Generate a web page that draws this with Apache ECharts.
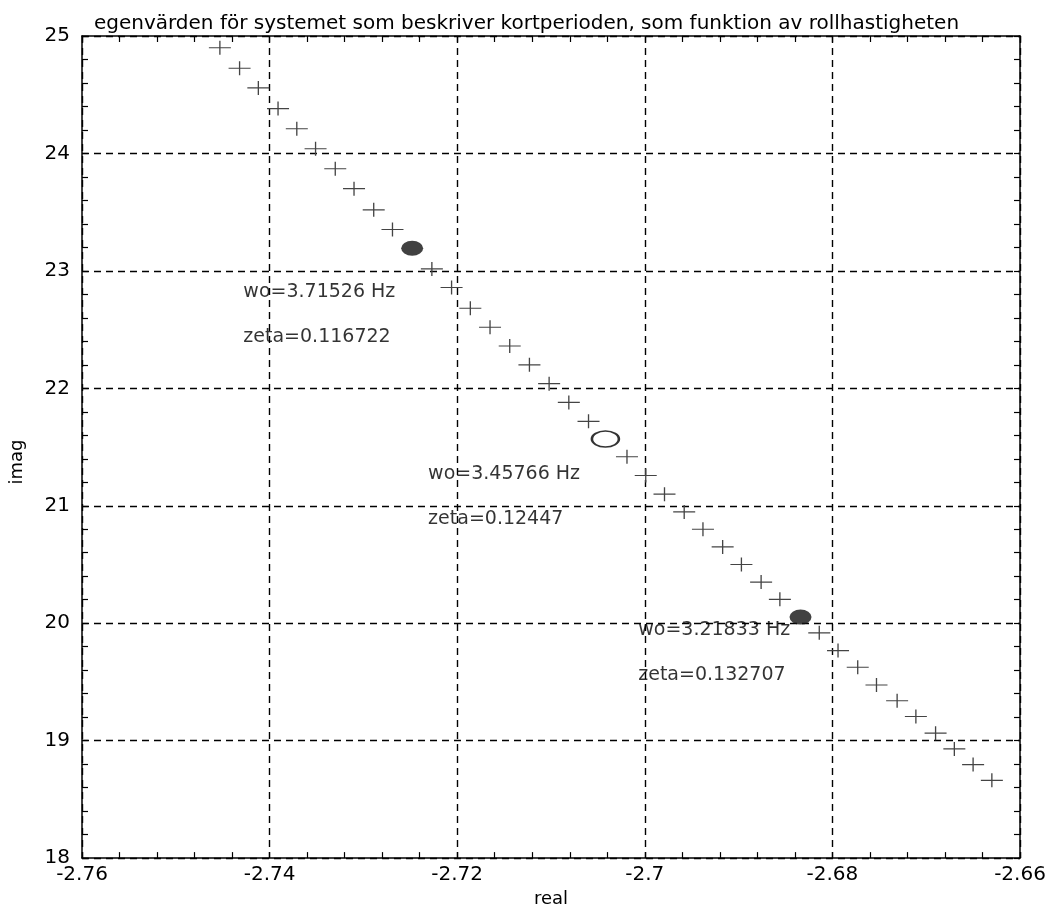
<!DOCTYPE html>
<html>
<head>
<meta charset="utf-8">
<script src="https://cdn.jsdelivr.net/npm/echarts@6/dist/echarts.min.js"></script>
<style>
html,body{margin:0;padding:0;background:#fff;}
#chart{width:1053px;height:913px;}
</style>
</head>
<body>
<div id="chart"></div>
<script>
// ---- data ----
var titleText = 'egenvärden för systemet som beskriver kortperioden, som funktion av rollhastigheten';
var xTickLabels = ['-2.76', '-2.74', '-2.72', '-2.7', '-2.68', '-2.66'];
var yTickLabels = ['18', '19', '20', '21', '22', '23', '24', '25'];

var crossReal = [-2.7453, -2.7432, -2.7412, -2.7391, -2.7371, -2.7351, -2.7330, -2.7310, -2.7289, -2.7269,
                 -2.7227, -2.7206, -2.7186, -2.7165, -2.7144, -2.7123, -2.7102, -2.7081, -2.7060,
                 -2.7019, -2.6999, -2.6979, -2.6958, -2.6938, -2.6917, -2.6897, -2.6876, -2.6856,
                 -2.6814, -2.6794, -2.6773, -2.6753, -2.6731, -2.6711, -2.6690, -2.6670, -2.6650, -2.6630];
var crossImag = [24.90, 24.725, 24.558, 24.382, 24.21, 24.04, 23.87, 23.70, 23.52, 23.352,
                 23.017, 22.858, 22.682, 22.52, 22.36, 22.20, 22.04, 21.88, 21.719,
                 21.417, 21.258, 21.099, 20.948, 20.80, 20.65, 20.50, 20.35, 20.203,
                 19.918, 19.767, 19.625, 19.474, 19.340, 19.206, 19.064, 18.930, 18.796, 18.662];

var filledReal = [-2.7248, -2.6834];
var filledImag = [23.193, 20.052];
var openReal = [-2.7042];
var openImag = [21.568];

var annReal = [-2.7428, -2.7428, -2.7231, -2.7231, -2.7007, -2.7007];
var annImag = [22.816, 22.44, 21.266, 20.889, 19.943, 19.558];
var annText = ['wo=3.71526 Hz', 'zeta=0.116722', 'wo=3.45766 Hz', 'zeta=0.12447', 'wo=3.21833 Hz', 'zeta=0.132707'];

// ---- build ----
function zip(a, b) { return a.map(function (v, i) { return [v, b[i]]; }); }
var FONT = 'DejaVu Sans';
var crossPath = 'path://M0,9.2H20V10.8H0ZM9.4,0H10.6V20H9.4Z';

var chart = echarts.init(document.getElementById('chart'), null, {renderer: 'canvas'});

function baseX(extra) {
  return Object.assign({
    type: 'value', min: -2.76, max: -2.66, interval: 0.02,
    axisLine: {show: true, onZero: false, lineStyle: {color: '#000', width: 1.5}},
    axisTick: {show: true, inside: true, length: 6, lineStyle: {color: '#000', width: 1.2}},
    minorTick: {show: true, splitNumber: 5, length: 6, lineStyle: {color: '#000', width: 1.2}},
    splitLine: {show: false}
  }, extra);
}
function baseY(extra) {
  return Object.assign({
    type: 'value', min: 18, max: 25, interval: 1,
    axisLine: {show: true, onZero: false, lineStyle: {color: '#000', width: 1.5}},
    axisTick: {show: true, inside: true, length: 6, lineStyle: {color: '#000', width: 1.2}},
    minorTick: {show: true, splitNumber: 5, length: 6, lineStyle: {color: '#000', width: 1.2}},
    splitLine: {show: false}
  }, extra);
}

var option = {
  backgroundColor: '#fff',
  animation: false,
  title: {
    text: titleText, left: 'center', top: 9,
    textStyle: {fontFamily: FONT, fontSize: 20, fontWeight: 'normal', color: '#000'}
  },
  grid: {left: 78, right: 33, top: 36, bottom: 41, containLabel: false},
  xAxis: [
    baseX({
      position: 'bottom',
      name: 'real', nameLocation: 'middle', nameGap: 31,
      nameTextStyle: {fontFamily: FONT, fontSize: 18, color: '#000'},
      axisLabel: {show: true, margin: 7, color: '#000', fontFamily: FONT, fontSize: 20,
        formatter: function (v, i) { return xTickLabels[i]; }},
      splitLine: {show: true, lineStyle: {color: '#000', type: [7, 5], width: 1.4}}
    }),
    baseX({position: 'top', axisLabel: {show: false}})
  ],
  yAxis: [
    baseY({
      position: 'left',
      name: 'imag', nameLocation: 'middle', nameGap: 56,
      nameTextStyle: {fontFamily: FONT, fontSize: 18, color: '#000', padding: [0, 30, 0, 0]},
      axisLabel: {show: true, margin: 12, color: '#000', fontFamily: FONT, fontSize: 20,
        formatter: function (v, i) { return yTickLabels[i]; }},
      splitLine: {show: true, lineStyle: {color: '#000', type: [7, 5], width: 1.4}}
    }),
    baseY({position: 'right', axisLabel: {show: false}})
  ],
  series: [
    {
      type: 'scatter', name: 'eig', data: zip(crossReal, crossImag),
      symbol: crossPath, symbolSize: [22, 14], symbolKeepAspect: false,
      itemStyle: {color: '#444', opacity: 1}, z: 3
    },
    {
      type: 'scatter', name: 'filled', data: zip(filledReal, filledImag),
      symbol: 'circle', symbolSize: [22, 15],
      itemStyle: {color: '#111'}, z: 4
    },
    {
      type: 'scatter', name: 'open', data: zip(openReal, openImag),
      symbol: 'circle', symbolSize: [27, 16],
      itemStyle: {color: '#fff', borderColor: '#000', borderWidth: 2}, z: 4
    },
    {
      type: 'scatter', name: 'ann',
      data: annReal.map(function (v, i) { return {value: [v, annImag[i]], name: annText[i]}; }),
      symbolSize: 0, silent: true,
      label: {show: true, position: 'right', distance: 0, formatter: '{b}',
        fontFamily: FONT, fontSize: 19, color: '#000'},
      z: 5
    }
  ]
};
chart.setOption(option);
</script>
</body>
</html>
